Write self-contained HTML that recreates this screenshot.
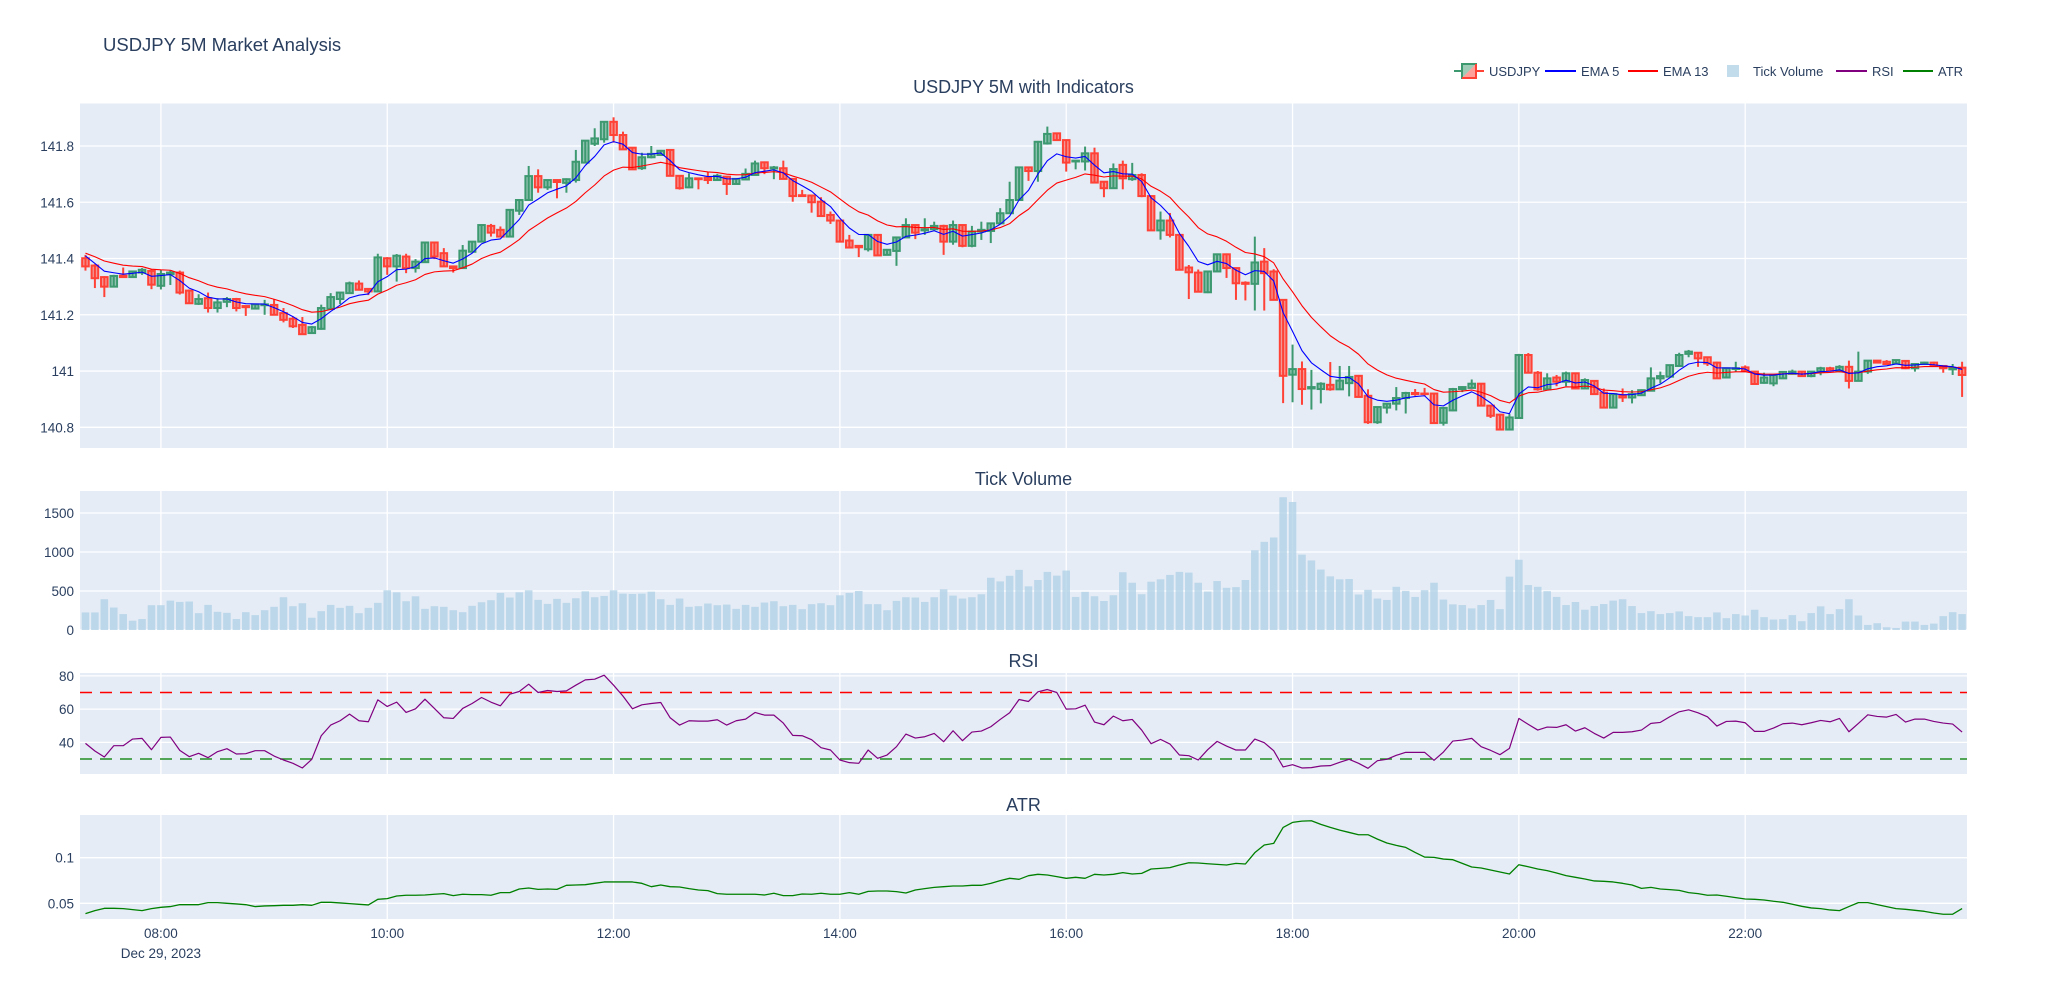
<!DOCTYPE html>
<html><head><meta charset="utf-8"><title>USDJPY 5M Market Analysis</title>
<style>
html,body{margin:0;padding:0;background:#fff;}
svg{display:block;font-family:"Liberation Sans",Arial,sans-serif;}
</style></head>
<body>
<svg id="chart" width="2047" height="1000" viewBox="0 0 2047 1000" xmlns="http://www.w3.org/2000/svg">
<rect width="2047" height="1000" fill="#fff"/>
<text x="103" y="51" font-size="18.5" fill="#2a3f5f">USDJPY 5M Market Analysis</text>
<g id="legend"></g>
<g id="panels"></g>
</svg>
<script>
const startLabel = "07:20";
const tickLabels = ["08:00","10:00","12:00","14:00","16:00","18:00","20:00","22:00"];
const tickMinutes = [0,120,240,360,480,600,720,840];
const openV = [141.401,141.375,141.334,141.300,141.339,141.334,141.350,141.356,141.303,141.344,
141.350,141.286,141.239,141.259,141.224,141.246,141.256,141.231,141.222,141.234,
141.235,141.206,141.186,141.164,141.135,141.150,141.221,141.256,141.277,141.311,
141.292,141.283,141.401,141.372,141.407,141.366,141.387,141.457,141.419,141.372,
141.366,141.424,141.460,141.516,141.502,141.478,141.570,141.608,141.693,141.653,
141.679,141.669,141.679,141.741,141.808,141.824,141.886,141.839,141.794,141.721,
141.760,141.768,141.786,141.694,141.653,141.685,141.687,141.679,141.691,141.665,
141.681,141.697,141.742,141.720,141.721,141.683,141.625,141.624,141.602,141.555,
141.535,141.464,141.445,141.433,141.484,141.413,141.427,141.475,141.519,141.500,
141.504,141.516,141.460,141.519,141.445,141.496,141.498,141.525,141.561,141.608,
141.724,141.711,141.809,141.845,141.821,141.745,141.745,141.774,141.673,141.650,
141.733,141.682,141.697,141.622,141.500,141.535,141.484,141.368,141.350,141.280,
141.354,141.415,141.366,141.314,141.310,141.389,141.354,141.253,140.987,141.007,
140.938,140.936,140.951,140.935,140.957,140.983,140.912,140.818,140.870,140.884,
140.904,140.922,140.920,140.920,140.816,140.860,140.936,140.940,140.955,140.877,
140.845,140.792,140.833,141.057,140.994,140.935,140.977,140.962,140.992,140.938,
140.965,140.923,140.870,140.914,140.906,140.914,140.930,140.974,140.980,141.018,
141.061,141.065,141.049,141.030,140.977,141.007,141.013,140.998,140.958,140.956,
140.974,140.990,140.998,140.982,140.998,141.010,141.000,141.015,140.965,140.998,
141.037,141.033,141.027,141.036,141.010,141.025,141.030,141.018,141.006,141.012];
const closeV = [141.372,141.330,141.300,141.338,141.334,141.354,141.360,141.307,141.345,141.350,
141.279,141.241,141.256,141.224,141.244,141.256,141.224,141.227,141.237,141.237,
141.200,141.182,141.159,141.131,141.156,141.224,141.263,141.279,141.312,141.289,
141.283,141.404,141.372,141.410,141.366,141.389,141.457,141.407,141.372,141.366,
141.428,141.460,141.519,141.492,141.478,141.573,141.608,141.693,141.653,141.679,
141.672,141.682,141.744,141.819,141.827,141.886,141.839,141.788,141.717,141.760,
141.772,141.783,141.694,141.650,141.685,141.682,141.679,141.694,141.665,141.683,
141.701,141.738,141.721,141.724,141.683,141.622,141.622,141.600,141.551,141.535,
141.460,141.439,141.440,141.484,141.411,141.431,141.475,141.519,141.492,141.504,
141.516,141.460,141.519,141.445,141.496,141.502,141.525,141.561,141.608,141.724,
141.711,141.815,141.843,141.821,141.741,141.748,141.774,141.670,141.650,141.718,
141.685,141.697,141.622,141.500,141.535,141.484,141.360,141.351,141.282,141.354,
141.415,141.366,141.312,141.310,141.386,141.348,141.253,140.983,141.007,140.936,
140.943,140.955,140.935,140.966,140.979,140.908,140.818,140.872,140.884,140.904,
140.922,140.918,140.918,140.815,140.869,140.936,140.943,140.955,140.877,140.841,
140.792,140.835,141.057,140.994,140.935,140.974,140.962,140.992,140.938,140.968,
140.918,140.870,140.918,140.906,140.918,140.932,140.974,140.982,141.021,141.057,
141.069,141.045,141.027,140.974,141.010,141.010,141.000,140.954,140.977,140.986,
140.997,140.998,140.982,140.998,141.010,141.002,141.015,140.965,140.998,141.037,
141.030,141.025,141.039,141.010,141.025,141.030,141.018,141.010,141.010,140.986];
const highV = [141.413,141.380,141.337,141.342,141.368,141.357,141.366,141.362,141.360,141.357,
141.357,141.290,141.273,141.279,141.259,141.263,141.260,141.233,141.240,141.253,
141.256,141.224,141.194,141.192,141.160,141.236,141.277,141.280,141.318,141.322,
141.293,141.417,141.405,141.416,141.417,141.398,141.460,141.460,141.437,141.373,
141.448,141.462,141.522,141.523,141.514,141.575,141.610,141.729,141.717,141.681,
141.681,141.685,141.786,141.820,141.863,141.888,141.902,141.851,141.796,141.776,
141.800,141.786,141.787,141.694,141.703,141.686,141.709,141.701,141.692,141.686,
141.720,141.748,141.745,141.729,141.748,141.683,141.644,141.626,141.618,141.567,
141.535,141.484,141.446,141.486,141.487,141.434,141.477,141.543,141.520,141.543,
141.531,141.520,141.535,141.520,141.516,141.531,141.526,141.579,141.673,141.726,
141.726,141.818,141.869,141.847,141.822,141.750,141.798,141.794,141.674,141.738,
141.748,141.740,141.703,141.623,141.567,141.562,141.485,141.377,141.361,141.356,
141.418,141.418,141.368,141.319,141.478,141.437,141.362,141.256,141.094,141.034,
141.004,140.960,141.032,141.018,141.018,140.986,140.935,140.874,140.886,140.943,
140.926,140.936,140.940,140.922,140.872,140.940,140.946,140.970,140.957,140.878,
140.848,140.847,141.061,141.064,141.000,140.992,140.986,140.998,140.994,140.974,
140.966,140.938,140.920,140.938,140.932,140.935,141.013,140.998,141.023,141.065,
141.075,141.067,141.050,141.033,141.012,141.033,141.020,140.999,140.994,140.988,
141.000,141.005,141.000,141.000,141.015,141.015,141.021,141.037,141.069,141.039,
141.039,141.039,141.040,141.038,141.027,141.033,141.033,141.019,141.025,141.033];
const lowV = [141.357,141.295,141.263,141.298,141.332,141.332,141.342,141.291,141.290,141.306,
141.272,141.240,141.235,141.208,141.208,141.227,141.212,141.196,141.220,141.200,
141.198,141.173,141.153,141.130,141.133,141.147,141.220,141.238,141.275,141.286,
141.270,141.280,141.342,141.318,141.348,141.350,141.385,141.398,141.370,141.350,
141.365,141.422,141.457,141.478,141.476,141.477,141.555,141.607,141.634,141.644,
141.614,141.634,141.670,141.738,141.800,141.812,141.812,141.786,141.715,141.715,
141.756,141.766,141.692,141.645,141.650,141.646,141.665,141.678,141.626,141.664,
141.679,141.696,141.700,141.682,141.682,141.602,141.620,141.563,141.549,141.523,
141.458,141.437,141.405,141.425,141.409,141.411,141.374,141.474,141.469,141.484,
141.500,141.413,141.449,141.440,141.440,141.466,141.455,141.524,141.560,141.606,
141.676,141.673,141.805,141.818,141.709,141.717,141.713,141.668,141.618,141.648,
141.646,141.676,141.618,141.498,141.467,141.475,141.358,141.256,141.280,141.277,
141.352,141.331,141.253,141.251,141.215,141.215,141.251,140.886,140.889,140.880,
140.863,140.885,140.930,140.933,140.910,140.905,140.812,140.812,140.849,140.860,
140.849,140.912,140.910,140.813,140.806,140.857,140.925,140.938,140.875,140.833,
140.790,140.790,140.831,140.993,140.930,140.932,140.946,140.946,140.936,140.936,
140.915,140.868,140.868,140.890,140.885,140.912,140.928,140.956,140.978,141.015,
141.049,141.015,141.018,140.972,140.975,140.998,140.997,140.952,140.955,140.946,
140.972,140.987,140.980,140.978,140.985,141.000,140.995,140.938,140.963,140.990,
141.028,141.024,141.025,141.007,140.998,141.022,141.015,140.994,140.986,140.908];
const volumeV = [225,225,394,288,204,119,140,318,318,377,
360,365,216,322,233,220,140,229,191,254,
297,420,305,343,157,242,322,284,310,216,
284,348,509,483,369,432,271,305,297,254,
229,310,356,382,475,416,483,509,386,335,
399,348,407,496,420,437,509,466,462,466,
492,394,322,403,297,305,339,318,326,271,
322,297,352,369,305,322,267,331,343,318,
445,475,500,331,331,254,373,420,416,360,
420,522,441,403,420,458,670,623,695,771,
560,641,745,697,762,424,489,433,372,446,
740,606,459,619,650,706,745,736,606,494,
628,541,550,641,1022,1130,1186,1702,1641,966,
892,775,688,650,654,455,515,403,385,554,
502,424,511,606,390,329,320,277,320,385,
268,684,901,576,554,498,424,320,359,260,
307,333,377,394,307,217,242,204,217,238,
178,165,165,225,152,204,186,260,165,134,
139,191,113,217,303,204,268,394,186,65,
87,35,26,108,108,65,82,178,229,204];
const rsiV = [39.4,34.8,31.2,38,38,42,42.4,35.6,43,43.2,
35.2,31.4,33.4,30.8,34.4,36.2,33,33.2,35,35,
31.8,29.4,27.4,24.6,29.8,44,50.4,53,57,53,
52.4,65.6,61.6,64.2,58,60.2,66,60.4,54.8,54.4,
60.4,63.4,67,64.2,62,69,70.6,75,70,71.2,
70.6,71,74.4,77.6,78,80.4,74.4,67.8,60.2,62.6,
63.4,64,54.8,50.4,53,52.8,52.8,53.6,50.4,53,
54,58,56.4,56.4,51.6,44.2,44,41.6,36.8,35.4,
29.4,27.8,27.4,35.4,30.4,32.4,37.4,45,42.6,43.4,
45.4,40.4,47,41,46.2,46.8,49.4,53.8,57.8,65.8,
64.6,70.4,71.8,70,60,60.2,62.4,52.2,50.6,55.8,
53,53.8,47.4,39.2,41.8,39,32.4,32,29.4,35.6,
40.6,37.8,35.4,35.4,42,39.8,35,25.2,26.6,24.6,
24.8,25.8,26,28,29.8,27.4,24.4,29,29.8,32.2,
34,34,34,29.2,34.2,40.8,41.4,42.4,37.4,35.2,
32.6,36.4,54.4,50.8,47.4,49.2,49,50.6,46.8,48.8,
45.4,42.6,46,46,46.4,47.4,51.4,52,55.4,58.4,
59.6,57.8,55.4,49.8,52.6,52.8,51.8,46.6,46.6,48.6,
51.2,51.6,50.6,51.8,53.2,52.4,54.4,46.4,51.4,56.6,
55.6,55.2,56.8,52.2,54,54,52.6,51.6,51,46.2];
const atrV = [.0387,.0420,.0445,.0445,.0442,.0431,.0420,.0442,.0456,.0464,
.0485,.0485,.0485,.0507,.0507,.0500,.0493,.0485,.0464,.0471,
.0474,.0478,.0478,.0485,.0478,.0511,.0511,.0504,.0496,.0489,
.0482,.0544,.0551,.0580,.0588,.0588,.0591,.0599,.0606,.0584,
.0599,.0595,.0595,.0588,.0617,.0617,.0657,.0668,.0653,.0657,
.0653,.0697,.0701,.0704,.0719,.0734,.0734,.0734,.0734,.0719,
.0682,.0701,.0682,.0679,.0661,.0646,.0639,.0606,.0599,.0599,
.0599,.0599,.0591,.0610,.0584,.0584,.0602,.0599,.0610,.0599,
.0599,.0617,.0599,.0631,.0635,.0635,.0628,.0613,.0646,.0661,
.0675,.0682,.0690,.0690,.0697,.0697,.0719,.0748,.0774,.0763,
.0803,.0818,.0810,.0792,.0774,.0785,.0774,.0818,.0810,.0818,
.0836,.0821,.0828,.0876,.0883,.0891,.0920,.0945,.0942,.0934,
.0927,.0920,.0938,.0931,.1055,.1139,.1157,.1332,.1387,.1401,
.1405,.1365,.1332,.1303,.1277,.1252,.1252,.1204,.1161,.1135,
.1113,.1058,.1007,.1004,.0985,.0978,.0938,.0898,.0887,.0865,
.0843,.0821,.0923,.0901,.0876,.0858,.0832,.0803,.0785,.0766,
.0745,.0741,.0734,.0719,.0701,.0664,.0675,.0657,.0650,.0642,
.0617,.0606,.0588,.0591,.0577,.0562,.0547,.0544,.0536,.0522,
.0511,.0489,.0467,.0449,.0442,.0427,.0420,.0464,.0507,.0507,
.0485,.0464,.0442,.0434,.0423,.0412,.0394,.0380,.0380,.0442];
const emaSeeds = [141.409, 141.419];
const mainTicks = [140.8,141,141.2,141.4,141.6,141.8];
const mainTickLabels = ["140.8","141","141.2","141.4","141.6","141.8"];
const volTicks = [0,500,1000,1500];
const rsiTicks = [40,60,80];
const atrTicks = [0.05,0.1];
const atrTickLabels = ["0.05","0.1"];

const NS = "http://www.w3.org/2000/svg";
const svg = document.getElementById('chart');
const panelsG = document.getElementById('panels');
function mk(tag, attrs, parent){ const e=document.createElementNS(NS,tag); for(const k in attrs) e.setAttribute(k,attrs[k]); (parent||panelsG).appendChild(e); return e; }

const PL=80, PR=1967;
const startMin = -40;
const xMinDom = -42.9, xMaxDom = 957.6;
function xScale(m){ return PL + (m - xMinDom)/(xMaxDom - xMinDom)*(PR-PL); }
function xi(i){ return xScale(startMin + 5*i); }
const barW = 9.43;

const panels = {
  main:{top:103.5,bot:448, f:p=>146+(141.8-p)*281.3},
  vol:{top:491,bot:630, f:v=>630-v*0.078},
  rsi:{top:673,bot:774, f:r=>692.5+(70-r)*1.6625},
  atr:{top:815,bot:919, f:a=>857.7+(0.1-a)*912}
};
function panelBg(p,name){
  const r = mk('rect',{x:PL,y:p.top,width:PR-PL,height:p.bot-p.top,fill:'#E5ECF6'});
  
  
  tickMinutes.forEach((m,k)=>{
    const l = mk('line',{x1:xScale(m),x2:xScale(m),y1:p.top,y2:p.bot,stroke:'#fff','stroke-width':1.3});
    
    
  });
}
function yTicks(p,vals,labels,name){
  vals.forEach((v,k)=>{
    const y=p.f(v);
    const l = mk('line',{x1:PL,x2:PR,y1:y,y2:y,stroke:'#fff','stroke-width':1.3});
    
    
    const t = mk('text',{x:74,y:y+5,'text-anchor':'end','font-size':13.5,fill:'#2a3f5f'});
    t.textContent = labels ? labels[k] : String(v);
    
    
  });
}
function subTitle(txt,y,name){
  const t = mk('text',{x:(PL+PR)/2,y:y,'text-anchor':'middle','font-size':18,fill:'#2a3f5f'});
  t.textContent = txt;
  
  
}
function linePath(vals,f,color,w,name){
  let d=''; vals.forEach((v,i)=>{ d += (i?'L':'M')+xi(i).toFixed(2)+','+f(v).toFixed(2); });
  const p = mk('path',{d:d,fill:'none',stroke:color,'stroke-width':w,'stroke-linejoin':'round'});
  
  
  return p;
}

const M=panels.main;
panelBg(M,'price');
yTicks(M,mainTicks,mainTickLabels,'price');
subTitle('USDJPY 5M with Indicators',93,'price-subplot-title');
const candleG = mk('g',{});


openV.forEach((o,i)=>{
  const c=closeV[i], up = c>=o;
  const col = up ? '#3D9970' : '#FF4136';
  const fill = up ? 'rgba(61,153,112,0.5)' : 'rgba(255,65,54,0.5)';
  const x=xi(i), yT=M.f(Math.max(o,c)), yB=M.f(Math.min(o,c));
  const w = mk('line',{x1:x,x2:x,y1:M.f(highV[i]),y2:M.f(lowV[i]),stroke:col,'stroke-width':2},candleG);
  
  
  const b = mk('rect',{x:x-3.3,y:yT,width:6.6,height:Math.max(yB-yT,0.5),fill:fill,stroke:col,'stroke-width':2},candleG);
  
  
});
function ema(vals,n,seed){ const k=2/(n+1); const out=[]; let e=seed; vals.forEach((v,i)=>{ e = i===0? seed : v*k+e*(1-k); out.push(e); }); return out; }
linePath(ema(closeV,13,emaSeeds[1]),M.f,'#ff0000',1.1,'ema-13-line');
linePath(ema(closeV,5,emaSeeds[0]),M.f,'#0000ff',1.1,'ema-5-line');

const V=panels.vol;
panelBg(V,'volume');
yTicks(V,volTicks,null,'volume');
subTitle('Tick Volume',485,'volume-subplot-title');
volumeV.forEach((v,i)=>{
  const y=V.f(v);
  const r = mk('rect',{x:xi(i)-barW*0.4,y:y,width:barW*0.8,height:V.bot-y,fill:'rgba(173,208,230,0.75)'});
  
  
});

const R=panels.rsi;
panelBg(R,'rsi');
yTicks(R,rsiTicks,null,'rsi');
subTitle('RSI',667,'rsi-subplot-title');
const ob = mk('line',{x1:PL,x2:PR,y1:R.f(70),y2:R.f(70),stroke:'#ff0000','stroke-width':1.5,'stroke-dasharray':'12,8'});


const os = mk('line',{x1:PL,x2:PR,y1:R.f(30),y2:R.f(30),stroke:'#228b22','stroke-width':1.5,'stroke-dasharray':'12,8'});


linePath(rsiV,R.f,'#800080',1.2,'rsi-line');

const A=panels.atr;
panelBg(A,'atr');
yTicks(A,atrTicks,atrTickLabels,'atr');
subTitle('ATR',811,'atr-subplot-title');
linePath(atrV,A.f,'#008000',1.3,'atr-line');

tickLabels.forEach((lab,k)=>{
  const t = mk('text',{x:xScale(tickMinutes[k]),y:938,'text-anchor':'middle','font-size':13.5,fill:'#2a3f5f'});
  t.textContent = lab;
  
  
});
const dl = mk('text',{x:xScale(0),y:958,'text-anchor':'middle','font-size':13.5,fill:'#2a3f5f'});
dl.textContent = 'Dec 29, 2023';



const L = document.getElementById('legend');
const LY = 71;
function legText(x,txt,name){ const t=mk('text',{x:x,y:LY+5,'font-size':13,fill:'#2a3f5f'},L); t.textContent=txt;   }
function legLine(x1,x2,col,name){ const l=mk('line',{x1:x1,x2:x2,y1:LY,y2:LY,stroke:col,'stroke-width':2},L);   }
mk('line',{x1:1454,x2:1462,y1:LY,y2:LY,stroke:'#3D9970','stroke-width':2},L);
mk('line',{x1:1476,x2:1484,y1:LY,y2:LY,stroke:'#FF4136','stroke-width':2},L);
mk('polygon',{points:'1462,64 1476,64 1462,78',fill:'rgba(61,153,112,0.5)'},L);
mk('polygon',{points:'1476,64 1476,78 1462,78',fill:'rgba(255,65,54,0.5)'},L);
const icn = mk('rect',{x:1462,y:64,width:14,height:14,fill:'none',stroke:'#3D9970','stroke-width':2},L);


mk('path',{d:'M1476,64 L1476,78 L1462,78',fill:'none',stroke:'#FF4136','stroke-width':2},L);
legText(1489,'USDJPY','legend-usdjpy');
legLine(1545,1576,'#0000ff','legend-ema5-line'); legText(1581,'EMA 5','legend-ema5');
legLine(1628,1658,'#ff0000','legend-ema13-line'); legText(1663,'EMA 13','legend-ema13');
const sq = mk('rect',{x:1727,y:65,width:12,height:12,fill:'rgba(173,208,230,0.75)'},L);


legText(1753,'Tick Volume','legend-tick-volume');
legLine(1836,1867,'#800080','legend-rsi-line'); legText(1872,'RSI','legend-rsi');
legLine(1903,1933,'#008000','legend-atr-line'); legText(1938,'ATR','legend-atr');
</script>
</body></html>
